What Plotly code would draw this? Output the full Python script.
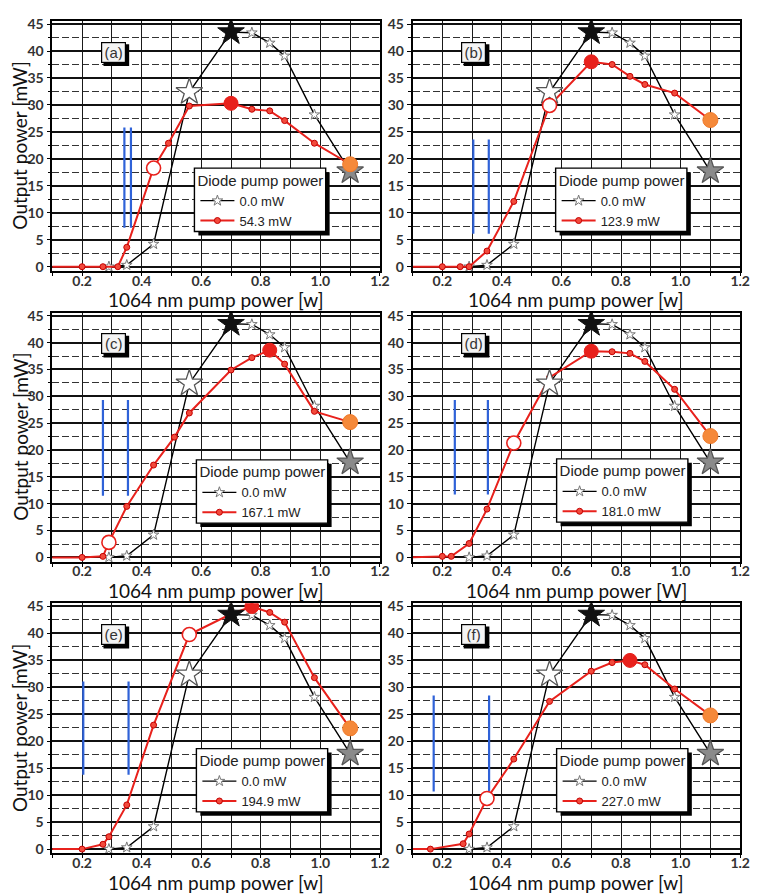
import plotly.graph_objects as go

W, H = 765, 896

# ---------------- data ----------------
black_x = [0.29, 0.35, 0.44, 0.56, 0.70, 0.77, 0.83, 0.88, 0.98, 1.10]
black_y = [0.0, 0.3, 4.2, 32.4, 43.5, 43.4, 41.5, 39.1, 28.2, 17.7]
black_open_idx = 3
black_peak_idx = 4
black_end_idx = 9

panel_labels = ["(a)", "(b)", "(c)", "(d)", "(e)", "(f)"]
diode_labels = ["54.3 mW", "123.9 mW", "167.1 mW", "181.0 mW", "194.9 mW", "227.0 mW"]
x_titles = ["1064 nm pump power [w]", "1064 nm pump power [w]",
            "1064 nm pump power [w]", "1064 nm pump power [W]",
            "1064 nm pump power [w]", "1064 nm pump power [w]"]
y_title = "Output power [mW]"
legend_title = "Diode pump power"

red_x_a = [0.05, 0.20, 0.27, 0.32, 0.35, 0.44, 0.49, 0.56, 0.70, 0.77, 0.83, 0.88, 0.98, 1.10]
red_y_a = [0.0, 0.0, 0.0, 0.0, 3.6, 18.3, 22.9, 29.8, 30.3, 29.2, 28.9, 27.1, 22.9, 19.0]
red_x_b = [0.05, 0.20, 0.26, 0.29, 0.35, 0.44, 0.56, 0.70, 0.77, 0.83, 0.88, 0.98, 1.10]
red_y_b = [0.0, 0.0, 0.0, 0.0, 2.9, 12.1, 29.9, 38.0, 37.5, 35.3, 33.8, 32.2, 27.2]
red_x_c = [0.05, 0.20, 0.27, 0.29, 0.35, 0.44, 0.51, 0.56, 0.70, 0.77, 0.83, 0.88, 0.98, 1.10]
red_y_c = [0.0, 0.0, 0.2, 2.8, 9.5, 17.2, 22.4, 26.9, 34.9, 37.2, 38.6, 36.0, 27.2, 25.2]
red_x_d = [0.05, 0.20, 0.23, 0.29, 0.35, 0.44, 0.56, 0.70, 0.77, 0.83, 0.88, 0.98, 1.10]
red_y_d = [0.0, 0.2, 0.2, 2.6, 9.0, 21.3, 33.5, 38.4, 38.3, 38.0, 36.5, 31.3, 22.6]
red_x_e = [0.05, 0.20, 0.27, 0.29, 0.35, 0.44, 0.56, 0.70, 0.77, 0.83, 0.88, 0.98, 1.10]
red_y_e = [0.0, 0.0, 0.9, 2.3, 8.2, 23.0, 39.8, 43.6, 45.0, 43.9, 42.1, 31.8, 22.4]
red_x_f = [0.05, 0.16, 0.27, 0.29, 0.35, 0.44, 0.56, 0.70, 0.77, 0.83, 0.88, 0.98, 1.10]
red_y_f = [0.0, 0.0, 1.0, 2.8, 9.4, 16.7, 27.4, 33.0, 34.6, 35.0, 34.2, 29.7, 24.8]

red_xs = [red_x_a, red_x_b, red_x_c, red_x_d, red_x_e, red_x_f]
red_ys = [red_y_a, red_y_b, red_y_c, red_y_d, red_y_e, red_y_f]
red_open_idx = [5, 6, 3, 5, 6, 4]
red_peak_idx = [8, 7, 10, 7, 8, 9]

blue_x = [[0.342, 0.364], [0.304, 0.356], [0.270, 0.354],
          [0.242, 0.353], [0.204, 0.356], [0.171, 0.357]]
blue_y = [[7.2, 25.8], [6.1, 23.6], [11.5, 29.3],
          [11.7, 29.3], [13.8, 31.1], [10.7, 28.5]]

label_pos = [0.305, 39.8]

# ---------------- layout geometry (pixels) ----------------
col_px = [(53, 385), (418, 750)]
row_px = [(15, 268), (310, 562), (604, 857)]
legend_box_px = [(197, 164), (563, 164), (199, 459), (564, 458), (199, 751), (564, 751)]
legend_size = (133, 64)
label_box = (26, 22)

XR = (0.1, 1.2001)
YR = (-0.8, 45.6)

RED = "#e8211c"
BLUE = "#2f62d8"
TICKFONT = dict(family="Lato", size=14, color="#333333", weight="bold")
TITLEFONT = dict(family="Lato", size=19, color="#111111")
LEGFONT = dict(family="Liberation Sans", size=13, color="#222222")
LEGTITLEFONT = dict(family="Liberation Sans", size=15, color="#222222")

fig = go.Figure()
layout = dict(width=W, height=H, margin=dict(l=0, r=0, t=0, b=0),
              paper_bgcolor="white", plot_bgcolor="white", showlegend=True)
shapes = []
annotations = []

for i in range(6):
    r, c = divmod(i, 2)
    n = "" if i == 0 else str(i + 1)
    xa, ya = "x" + n, "y" + n
    leg = "legend" + n
    x0p, x1p = col_px[c]
    y0p, y1p = row_px[r]

    layout["xaxis" + n] = dict(
        domain=[x0p / W, x1p / W], anchor=ya, range=list(XR),
        tick0=0, dtick=0.2, tickformat=".1f",
        showgrid=True, gridcolor="#1a1a1a", gridwidth=1.2,
        minor=dict(dtick=0.1, showgrid=True, gridcolor="#1a1a1a", gridwidth=1.2,
                   ticks="outside", ticklen=3, tickcolor="black"),
        showline=True, linecolor="black", linewidth=1.6, mirror=True,
        ticks="outside", ticklen=3, tickcolor="black",
        tickfont=TICKFONT, zeroline=False, ticklabelstandoff=-7,
    )
    layout["yaxis" + n] = dict(
        domain=[1 - y1p / H, 1 - y0p / H], anchor=xa, range=list(YR),
        tick0=0, dtick=5,
        showgrid=True, gridcolor="#111111", gridwidth=1.6,
        minor=dict(dtick=2.5, showgrid=True, gridcolor="#333333", gridwidth=1.3,
                   griddash="7px,3px", ticks="outside", ticklen=3, tickcolor="black"),
        showline=True, linecolor="black", linewidth=1.6, mirror=True,
        ticks="outside", ticklen=4, tickcolor="black",
        tickfont=TICKFONT, zeroline=False,
    )

    # axis titles
    annotations.append(dict(x=(x0p + x1p) / 2 / W, y=1 - (y1p + 29) / H,
                            xref="paper", yref="paper", text=x_titles[i],
                            showarrow=False, font=TITLEFONT,
                            xanchor="center", yanchor="middle"))
    if c == 0:
        annotations.append(dict(x=20 / W, y=1 - (y0p + y1p) / 2 / H,
                                xref="paper", yref="paper", text=y_title,
                                showarrow=False, font=TITLEFONT, textangle=-90,
                                xanchor="center", yanchor="middle"))

    # blue markers (vertical bars)
    for bx in blue_x[i]:
        fig.add_trace(go.Scatter(x=[bx, bx], y=blue_y[i], mode="lines",
                                 line=dict(color=BLUE, width=2.2),
                                 showlegend=False, hoverinfo="skip",
                                 xaxis=xa, yaxis=ya))

    # black reference series
    fig.add_trace(go.Scatter(x=black_x, y=black_y, mode="lines+markers", name="0.0 mW",
                             line=dict(color="black", width=1.4),
                             marker=dict(symbol="star", size=8, color="white",
                                         line=dict(color="#777777", width=1)),
                             legend=leg, xaxis=xa, yaxis=ya))
    # red series
    rx, ry = red_xs[i], red_ys[i]
    fig.add_trace(go.Scatter(x=rx, y=ry, mode="lines+markers", name=diode_labels[i],
                             line=dict(color=RED, width=2),
                             marker=dict(symbol="circle", size=6, color="#f24a3c",
                                         line=dict(color="#c40000", width=1)),
                             legend=leg, xaxis=xa, yaxis=ya))

    # highlighted black stars
    fig.add_trace(go.Scatter(x=[black_x[black_open_idx]], y=[black_y[black_open_idx]],
                             mode="markers", showlegend=False,
                             marker=dict(symbol="star", size=20, color="white",
                                         line=dict(color="#555555", width=1.3)),
                             xaxis=xa, yaxis=ya))
    fig.add_trace(go.Scatter(x=[black_x[black_peak_idx]], y=[black_y[black_peak_idx]],
                             mode="markers", showlegend=False,
                             marker=dict(symbol="star", size=20, color="#111111",
                                         line=dict(color="#111111", width=1)),
                             xaxis=xa, yaxis=ya))
    fig.add_trace(go.Scatter(x=[black_x[black_end_idx]], y=[black_y[black_end_idx]],
                             mode="markers", showlegend=False,
                             marker=dict(symbol="star", size=20, color="#8a8a8a",
                                         line=dict(color="#555555", width=1.3)),
                             xaxis=xa, yaxis=ya))
    # highlighted red circles
    oi, pi = red_open_idx[i], red_peak_idx[i]
    fig.add_trace(go.Scatter(x=[rx[oi]], y=[ry[oi]], mode="markers", showlegend=False,
                             marker=dict(symbol="circle", size=14, color="white",
                                         line=dict(color=RED, width=1.6)),
                             xaxis=xa, yaxis=ya))
    fig.add_trace(go.Scatter(x=[rx[pi]], y=[ry[pi]], mode="markers", showlegend=False,
                             marker=dict(symbol="circle", size=14, color=RED,
                                         line=dict(color=RED, width=1)),
                             xaxis=xa, yaxis=ya))
    fig.add_trace(go.Scatter(x=[rx[-1]], y=[ry[-1]], mode="markers", showlegend=False,
                             marker=dict(symbol="circle", size=15, color="#f5893a",
                                         line=dict(color="#f07a2a", width=1)),
                             xaxis=xa, yaxis=ya))

    # panel label box with drop shadow
    xpp = (XR[1] - XR[0]) / (x1p - x0p)   # data units per pixel
    ypp = (YR[1] - YR[0]) / (y1p - y0p)
    bw, bh = label_box
    shapes.append(dict(type="rect", xref=xa, yref=ya, layer="above",
                       x0=label_pos[0] + (-bw / 2 + 3) * xpp,
                       x1=label_pos[0] + (bw / 2 + 3) * xpp,
                       y0=label_pos[1] - (bh / 2 + 3) * ypp,
                       y1=label_pos[1] + (bh / 2 - 3) * ypp,
                       fillcolor="black", line=dict(width=0)))
    annotations.append(dict(
        x=label_pos[0], y=label_pos[1], xref=xa, yref=ya, text=panel_labels[i],
        showarrow=False, font=dict(family="Liberation Sans", size=15, color="#333333"),
        bgcolor="#f4f4f4", bordercolor="black", borderwidth=1.2, borderpad=2,
        width=bw - 7, height=bh - 7))

    # legend: box + drop shadow drawn as shapes, legend itself transparent
    lx, ly = legend_box_px[i]
    lw, lh = legend_size
    shapes.append(dict(type="rect", xref="paper", yref="paper", layer="above",
                       x0=(lx + 4) / W, x1=(lx + lw + 4) / W,
                       y0=1 - (ly + lh + 4) / H, y1=1 - (ly + 4) / H,
                       fillcolor="black", line=dict(width=0)))
    shapes.append(dict(type="rect", xref="paper", yref="paper", layer="above",
                       x0=lx / W, x1=(lx + lw) / W,
                       y0=1 - (ly + lh) / H, y1=1 - ly / H,
                       fillcolor="white", line=dict(color="black", width=1.4)))
    layout[leg] = dict(
        x=(lx + 1) / W, y=1 - (ly - 2) / H, xanchor="left", yanchor="top",
        bgcolor="rgba(0,0,0,0)", borderwidth=0,
        font=LEGFONT,
        title=dict(text=legend_title, side="top", font=LEGTITLEFONT),
        tracegroupgap=0, itemwidth=34,
    )

layout["shapes"] = shapes
layout["annotations"] = annotations
fig.update_layout(**layout)
fig.write_html("out.html", config={"displayModeBar": False},
               post_script="document.body.style.margin='0';")
